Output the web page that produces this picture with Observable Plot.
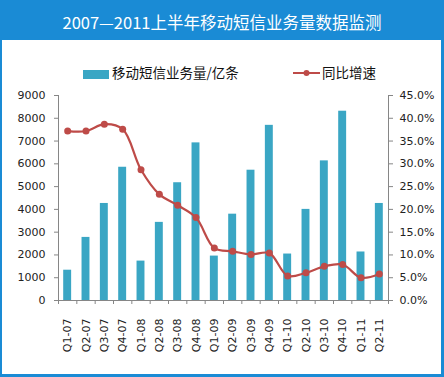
<!DOCTYPE html>
<html><head><meta charset="utf-8">
<script src="https://cdn.jsdelivr.net/npm/d3@7"></script>
<script src="https://cdn.jsdelivr.net/npm/@observablehq/plot@0.6"></script>
<style>
body{margin:0;background:#fff;}
#wrap{position:relative;width:444px;height:377px;overflow:hidden;font-family:"Noto Sans CJK SC",sans-serif;background:#fff;}
#title{position:absolute;left:0;top:0;width:444px;height:40px;background:#1a8bd5;color:#fff;font-size:16.5px;text-align:center;line-height:44px;white-space:nowrap;}
#frame{position:absolute;left:0;top:0;width:444px;height:377px;box-sizing:border-box;border-left:2px solid #1a8bd5;border-right:3px solid #1a8bd5;border-bottom:3px solid #1a8bd5;pointer-events:none;}
.leg{position:absolute;top:62px;font-size:13.5px;color:#111;line-height:20px;white-space:nowrap;}
#chart{position:absolute;left:0;top:85px;}
</style></head>
<body>
<div id="wrap">
  <div id="chart"></div>
  <div id="title">2007—2011上半年移动短信业务量数据监测</div>
  <div class="leg" style="left:83px;"><span style="display:inline-block;width:26px;height:9px;background:#3aa6c4;vertical-align:-1px;margin-right:3px;"></span>移动短信业务量/亿条</div>
  <div class="leg" style="left:293px;"><svg width="27" height="10" style="vertical-align:0px;margin-right:2px;"><line x1="0" y1="5" x2="27" y2="5" stroke="#be4b48" stroke-width="2"/><circle cx="13.5" cy="5" r="3" fill="#be4b48"/></svg>同比增速</div>
  <div id="frame"></div>
</div>
<script>
const categories = ["Q1-07","Q2-07","Q3-07","Q4-07","Q1-08","Q2-08","Q3-08","Q4-08","Q1-09","Q2-09","Q3-09","Q4-09","Q1-10","Q2-10","Q3-10","Q4-10","Q1-11","Q2-11"];
const volume = [1330,2770,4260,5850,1730,3430,5170,6920,1950,3790,5720,7690,2040,4000,6130,8310,2130,4260];
const growth = [37.2,37.2,38.7,37.6,28.7,23.3,20.9,18.2,11.5,10.8,10.1,10.4,5.4,6.1,7.5,7.9,5.0,5.8];
const leftTicks = [0,1000,2000,3000,4000,5000,6000,7000,8000,9000];
const rightTicks = [0,5,10,15,20,25,30,35,40,45];

const leftMax = leftTicks[leftTicks.length-1];
const rightMax = rightTicks[rightTicks.length-1];
const ratio = leftMax / rightMax;
const n = categories.length;
const rows = categories.map((c,i)=>({c, i, v: volume[i], g: growth[i]}));
const axisColor = "#868686";

const chart = Plot.plot({
  width: 444, height: 290,
  marginLeft: 58, marginRight: 56, marginTop: 10, marginBottom: 75,
  style: {fontFamily: "DejaVu Sans", fontSize: "11px", color: "#222", background: "transparent", overflow: "visible"},
  x: {type: "linear", domain: [0, n], label: null},
  y: {domain: [0, leftMax], label: null},
  marks: [
    Plot.rectY(rows, {x1: "i", x2: d => d.i + 1, y1: 0, y2: "v", fill: "#3aa6c4", insetLeft: 5.2, insetRight: 5.2}),
    Plot.ruleX([0, n], {stroke: axisColor}),
    Plot.ruleY([0], {stroke: axisColor}),
    Plot.axisY({ticks: leftTicks, tickSize: 4, tickPadding: 9, tickFormat: d => String(d), stroke: axisColor, fill: "#222", label: null}),
    Plot.axisY({anchor: "right", ticks: rightTicks.map(t => t * ratio), tickSize: 4, tickPadding: 7, tickFormat: d => (d / ratio).toFixed(1) + "%", stroke: axisColor, fill: "#222", label: null}),
    Plot.axisX({ticks: d3.range(0, n + 1), tickSize: 4, tickFormat: () => "", stroke: axisColor, label: null}),
    Plot.axisX({ticks: categories.map((c, i) => i + 0.5), tickSize: 0, tickPadding: 18, tickRotate: -90, tickFormat: d => categories[Math.floor(d)], fill: "#222", label: null}),
    Plot.lineY(rows, {x: d => d.i + 0.5, y: d => d.g * ratio, stroke: "#be4b48", strokeWidth: 2.2, curve: "catmull-rom"}),
    Plot.dot(rows, {x: d => d.i + 0.5, y: d => d.g * ratio, r: 3.5, fill: "#be4b48", stroke: "none"})
  ]
});
document.getElementById("chart").appendChild(chart);
</script>
</body></html>
